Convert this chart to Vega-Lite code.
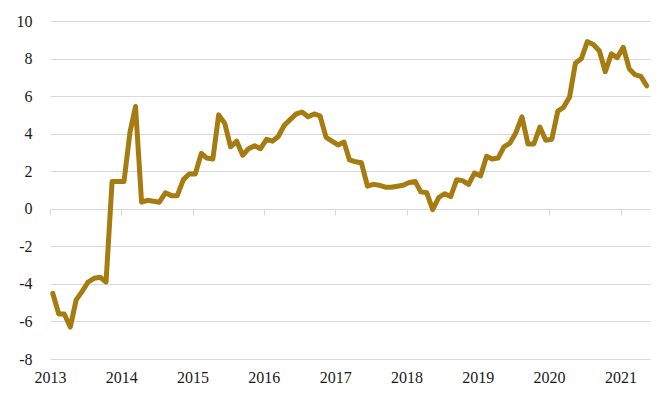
{
  "$schema": "https://vega.github.io/schema/vega-lite/v6.json",
  "width": 600,
  "height": 338,
  "autosize": {"type": "none"},
  "padding": {"left": 50, "top": 21, "right": 20, "bottom": 44},
  "background": "#ffffff",
  "config": {"view": {"stroke": null}},
  "data": {
    "values": [
      {"date": "2013-01-15", "v": -4.5}, {"date": "2013-02-15", "v": -5.6}, {"date": "2013-03-15", "v": -5.6}, {"date": "2013-04-15", "v": -6.3},
      {"date": "2013-05-15", "v": -4.85}, {"date": "2013-06-15", "v": -4.4}, {"date": "2013-07-15", "v": -3.9}, {"date": "2013-08-15", "v": -3.7},
      {"date": "2013-09-15", "v": -3.65}, {"date": "2013-10-15", "v": -3.9}, {"date": "2013-11-15", "v": 1.45}, {"date": "2013-12-15", "v": 1.45},
      {"date": "2014-01-15", "v": 1.45}, {"date": "2014-02-15", "v": 4.1}, {"date": "2014-03-15", "v": 5.45}, {"date": "2014-04-15", "v": 0.35},
      {"date": "2014-05-15", "v": 0.45}, {"date": "2014-06-15", "v": 0.4}, {"date": "2014-07-15", "v": 0.35}, {"date": "2014-08-15", "v": 0.85},
      {"date": "2014-09-15", "v": 0.7}, {"date": "2014-10-15", "v": 0.7}, {"date": "2014-11-15", "v": 1.55}, {"date": "2014-12-15", "v": 1.85},
      {"date": "2015-01-15", "v": 1.85}, {"date": "2015-02-15", "v": 2.95}, {"date": "2015-03-15", "v": 2.7}, {"date": "2015-04-15", "v": 2.65},
      {"date": "2015-05-15", "v": 5.0}, {"date": "2015-06-15", "v": 4.55}, {"date": "2015-07-15", "v": 3.3}, {"date": "2015-08-15", "v": 3.6},
      {"date": "2015-09-15", "v": 2.85}, {"date": "2015-10-15", "v": 3.2}, {"date": "2015-11-15", "v": 3.35}, {"date": "2015-12-15", "v": 3.2},
      {"date": "2016-01-15", "v": 3.7}, {"date": "2016-02-15", "v": 3.6}, {"date": "2016-03-15", "v": 3.85}, {"date": "2016-04-15", "v": 4.45},
      {"date": "2016-05-15", "v": 4.75}, {"date": "2016-06-15", "v": 5.05}, {"date": "2016-07-15", "v": 5.15}, {"date": "2016-08-15", "v": 4.9},
      {"date": "2016-09-15", "v": 5.05}, {"date": "2016-10-15", "v": 4.95}, {"date": "2016-11-15", "v": 3.8}, {"date": "2016-12-15", "v": 3.6},
      {"date": "2017-01-15", "v": 3.4}, {"date": "2017-02-15", "v": 3.55}, {"date": "2017-03-15", "v": 2.6}, {"date": "2017-04-15", "v": 2.5},
      {"date": "2017-05-15", "v": 2.45}, {"date": "2017-06-15", "v": 1.2}, {"date": "2017-07-15", "v": 1.3}, {"date": "2017-08-15", "v": 1.25},
      {"date": "2017-09-15", "v": 1.15}, {"date": "2017-10-15", "v": 1.15}, {"date": "2017-11-15", "v": 1.2}, {"date": "2017-12-15", "v": 1.25},
      {"date": "2018-01-15", "v": 1.4}, {"date": "2018-02-15", "v": 1.45}, {"date": "2018-03-15", "v": 0.9}, {"date": "2018-04-15", "v": 0.85},
      {"date": "2018-05-15", "v": -0.05}, {"date": "2018-06-15", "v": 0.6}, {"date": "2018-07-15", "v": 0.8}, {"date": "2018-08-15", "v": 0.65},
      {"date": "2018-09-15", "v": 1.55}, {"date": "2018-10-15", "v": 1.5}, {"date": "2018-11-15", "v": 1.3}, {"date": "2018-12-15", "v": 1.9},
      {"date": "2019-01-15", "v": 1.75}, {"date": "2019-02-15", "v": 2.8}, {"date": "2019-03-15", "v": 2.65}, {"date": "2019-04-15", "v": 2.7},
      {"date": "2019-05-15", "v": 3.3}, {"date": "2019-06-15", "v": 3.5}, {"date": "2019-07-15", "v": 4.05}, {"date": "2019-08-15", "v": 4.9},
      {"date": "2019-09-15", "v": 3.45}, {"date": "2019-10-15", "v": 3.45}, {"date": "2019-11-15", "v": 4.35}, {"date": "2019-12-15", "v": 3.65},
      {"date": "2020-01-15", "v": 3.7}, {"date": "2020-02-15", "v": 5.2}, {"date": "2020-03-15", "v": 5.4}, {"date": "2020-04-15", "v": 5.95},
      {"date": "2020-05-15", "v": 7.75}, {"date": "2020-06-15", "v": 8.0}, {"date": "2020-07-15", "v": 8.9}, {"date": "2020-08-15", "v": 8.75},
      {"date": "2020-09-15", "v": 8.4}, {"date": "2020-10-15", "v": 7.3}, {"date": "2020-11-15", "v": 8.25}, {"date": "2020-12-15", "v": 8.05},
      {"date": "2021-01-15", "v": 8.6}, {"date": "2021-02-15", "v": 7.45}, {"date": "2021-03-15", "v": 7.15}, {"date": "2021-04-15", "v": 7.05},
      {"date": "2021-05-15", "v": 6.55}
    ]
  },
  "mark": {"type": "line", "color": "#A67B10", "strokeWidth": 5, "strokeJoin": "round", "strokeCap": "round"},
  "encoding": {
    "x": {
      "field": "date",
      "type": "temporal",
      "scale": {"type": "utc", "domain": ["2013-01-01", "2021-06-01"]},
      "axis": {
        "title": null,
        "format": "%Y",
        "formatType": "utc",
        "tickCount": {"interval": "year", "step": 1},
        "grid": false,
        "domain": false,
        "ticks": true,
        "tickColor": "#d9d9d9",
        "tickSize": 6,
        "offset": -150,
        "labelPadding": 154,
        "labelFont": "Liberation Serif",
        "labelFontSize": 16,
        "labelColor": "#1a1a1a",
        "labelAlign": "center",
        "labelBaseline": "top",
        "labelFlush": false,
        "labelOverlap": false
      }
    },
    "y": {
      "field": "v",
      "type": "quantitative",
      "scale": {"domain": [-8, 10], "nice": false, "zero": false},
      "axis": {
        "title": null,
        "values": [-8, -6, -4, -2, 0, 2, 4, 6, 8, 10],
        "labelExpr": "toString(datum.value)",
        "grid": true,
        "gridColor": "#d9d9d9",
        "gridWidth": 1,
        "domain": false,
        "ticks": false,
        "labelPadding": 18,
        "labelFont": "Liberation Serif",
        "labelFontSize": 16,
        "labelColor": "#1a1a1a"
      }
    }
  }
}
